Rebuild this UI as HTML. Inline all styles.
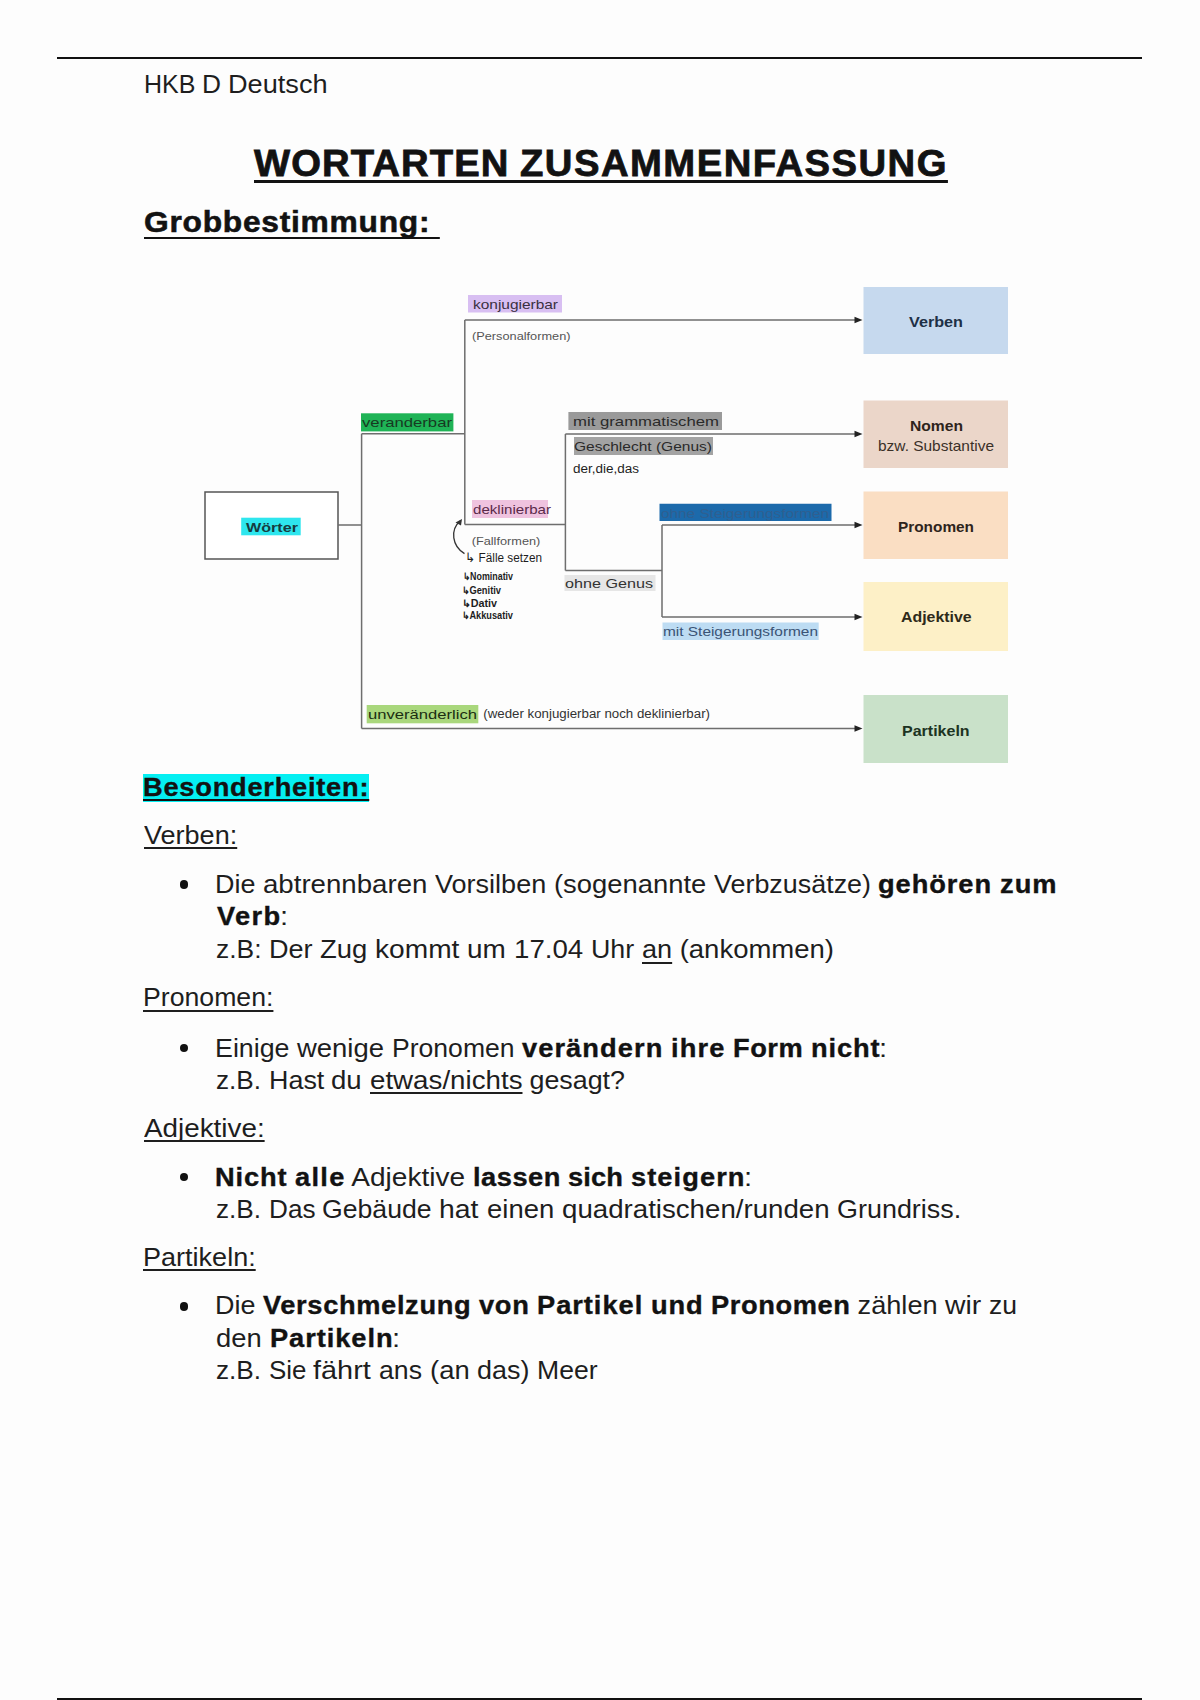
<!DOCTYPE html>
<html><head><meta charset="utf-8"><title>Wortarten Zusammenfassung</title>
<style>
html,body{margin:0;padding:0;background:#fff;}
#page{position:relative;width:1200px;height:1700px;overflow:hidden;background:#fdfdfd;font-family:"Liberation Sans",sans-serif;color:#1e1e1e;}
.t{position:absolute;white-space:pre;line-height:30px;height:30px;}
.r{position:absolute;top:0;white-space:pre;transform-origin:0 0;}
.bd{font-weight:bold;color:#121212;-webkit-text-stroke:0.35px #121212;}
.u{text-decoration:underline;text-decoration-thickness:2px;text-underline-offset:3px;text-decoration-skip-ink:none;}
.hr{position:absolute;left:57px;width:1085px;height:2px;background:#111;}
.dot{position:absolute;width:8.4px;height:8.4px;border-radius:50%;background:#111;}
svg text{font-family:"Liberation Sans",sans-serif;}
</style></head><body><div id="page">
<div class="hr" style="top:57px"></div>
<div class="hr" style="top:1698px"></div>
<div style="position:absolute;left:143px;top:774px;width:226px;height:28px;background:#05eff2"></div>

<div class="t" style="left:143.5px;top:69.3px;font-size:25.00px;"><span class="r" style="left:0.00px;transform:scaleX(0.9997);">HKB </span><span class="r" style="left:58.34px;transform:scaleX(1.0531);">D </span><span class="r" style="left:84.67px;transform:scaleX(1.0855);">Deutsch</span></div>
<div class="t" style="left:254.3px;top:147.7px;font-size:37.50px;"><span class="r bd u" style="left:0.00px;transform:scaleX(1.0200);letter-spacing:1.063px;text-underline-offset:4px;text-decoration-thickness:2.5px;-webkit-text-stroke-width:0.8px;">WORTARTEN </span><span class="r bd u" style="left:266.14px;transform:scaleX(1.0200);letter-spacing:1.440px;text-underline-offset:4px;text-decoration-thickness:2.5px;-webkit-text-stroke-width:0.8px;">ZUSAMMENFASSUNG</span></div>
<div class="t" style="left:144.0px;top:207.4px;font-size:29.13px;"><span class="r bd u" style="left:0.00px;transform:scaleX(1.0900);letter-spacing:0.680px;text-underline-offset:5px;-webkit-text-stroke-width:0.55px;">Grobbestimmung: </span></div>
<div class="t" style="left:143.0px;top:772.3px;font-size:25.00px;"><span class="r bd u" style="left:0.00px;transform:scaleX(1.0900);letter-spacing:0.687px;">Besonderheiten:</span></div>
<div class="t" style="left:143.5px;top:820.3px;font-size:25.00px;"><span class="r u" style="left:0.00px;transform:scaleX(1.0816);">Verben:</span></div>
<div class="t" style="left:215.3px;top:869.0px;font-size:25.00px;"><span class="r" style="left:0.00px;transform:scaleX(1.0777);">Die </span><span class="r" style="left:47.92px;transform:scaleX(1.1055);">abtrennbaren </span><span class="r" style="left:220.03px;transform:scaleX(1.0813);">Vorsilben </span><span class="r" style="left:338.75px;transform:scaleX(1.0958);">(sogenannte </span><span class="r" style="left:498.69px;transform:scaleX(1.0761);">Verbzusätze) </span><span class="r bd" style="left:663.17px;transform:scaleX(1.0900);letter-spacing:0.845px;">gehören </span><span class="r bd" style="left:784.70px;transform:scaleX(1.0900);letter-spacing:0.925px;">zum</span></div>
<div class="t" style="left:217.3px;top:901.3px;font-size:25.00px;"><span class="r bd" style="left:0.00px;transform:scaleX(1.0900);letter-spacing:1.213px;">Verb</span><span class="r" style="left:63.05px;transform:scaleX(1.1730);">:</span></div>
<div class="t" style="left:216.3px;top:933.6px;font-size:25.00px;"><span class="r" style="left:0.00px;transform:scaleX(1.0562);">z.B: </span><span class="r" style="left:52.83px;transform:scaleX(1.0827);">Der </span><span class="r" style="left:103.97px;transform:scaleX(1.0984);">Zug </span><span class="r" style="left:158.92px;transform:scaleX(1.1256);">kommt </span><span class="r" style="left:251.17px;transform:scaleX(1.1177);">um </span><span class="r" style="left:297.77px;transform:scaleX(1.1068);">17.04 </span><span class="r" style="left:374.70px;transform:scaleX(1.0728);">Uhr </span><span class="r u" style="left:425.38px;transform:scaleX(1.0843);text-underline-offset:4px;">an</span><span class="r" style="left:455.53px;transform:scaleX(1.1001);"> (ankommen)</span></div>
<div class="t" style="left:143.0px;top:981.7px;font-size:25.00px;"><span class="r u" style="left:0.00px;transform:scaleX(1.0664);text-underline-offset:4px;">Pronomen:</span></div>
<div class="t" style="left:215.3px;top:1032.7px;font-size:25.00px;"><span class="r" style="left:0.00px;transform:scaleX(1.0723);">Einige </span><span class="r" style="left:81.98px;transform:scaleX(1.0983);">wenige </span><span class="r" style="left:176.62px;transform:scaleX(1.0627);">Pronomen </span><span class="r bd" style="left:306.59px;transform:scaleX(1.0900);letter-spacing:0.977px;">verändern </span><span class="r bd" style="left:455.53px;transform:scaleX(1.0900);letter-spacing:1.082px;">ihre </span><span class="r bd" style="left:517.80px;transform:scaleX(1.0900);letter-spacing:0.462px;">Form </span><span class="r bd" style="left:595.52px;transform:scaleX(1.0900);letter-spacing:0.814px;">nicht</span><span class="r" style="left:664.16px;transform:scaleX(1.1730);">:</span></div>
<div class="t" style="left:216.3px;top:1064.8px;font-size:25.00px;"><span class="r" style="left:0.00px;transform:scaleX(1.0469);">z.B. </span><span class="r" style="left:52.36px;transform:scaleX(1.0760);">Hast </span><span class="r" style="left:115.16px;transform:scaleX(1.1038);">du </span><span class="r u" style="left:153.53px;transform:scaleX(1.1085);">etwas/nichts</span><span class="r" style="left:306.02px;transform:scaleX(1.0741);"> gesagt?</span></div>
<div class="t" style="left:143.5px;top:1113.1px;font-size:25.00px;"><span class="r u" style="left:0.00px;transform:scaleX(1.1130);">Adjektive:</span></div>
<div class="t" style="left:215.3px;top:1161.6px;font-size:25.00px;"><span class="r bd" style="left:0.00px;transform:scaleX(1.0900);letter-spacing:0.803px;">Nicht </span><span class="r bd" style="left:80.08px;transform:scaleX(1.0900);letter-spacing:1.179px;">alle</span><span class="r" style="left:129.39px;transform:scaleX(1.1220);"> Adjektive </span><span class="r bd" style="left:257.25px;transform:scaleX(1.0900);letter-spacing:0.465px;">lassen </span><span class="r bd" style="left:352.70px;transform:scaleX(1.0900);letter-spacing:0.128px;">sich </span><span class="r bd" style="left:415.38px;transform:scaleX(1.0900);letter-spacing:0.984px;">steigern</span><span class="r" style="left:528.91px;transform:scaleX(1.1730);">:</span></div>
<div class="t" style="left:216.3px;top:1193.6px;font-size:25.00px;"><span class="r" style="left:0.00px;transform:scaleX(1.0469);">z.B. </span><span class="r" style="left:52.36px;transform:scaleX(1.0456);">Das </span><span class="r" style="left:106.11px;transform:scaleX(1.0659);">Gebäude </span><span class="r" style="left:223.17px;transform:scaleX(1.1349);">hat </span><span class="r" style="left:270.50px;transform:scaleX(1.0986);">einen </span><span class="r" style="left:345.34px;transform:scaleX(1.1064);">quadratischen/runden </span><span class="r" style="left:620.62px;transform:scaleX(1.0776);">Grundriss.</span></div>
<div class="t" style="left:143.0px;top:1242.0px;font-size:25.00px;"><span class="r u" style="left:0.00px;transform:scaleX(1.0814);">Partikeln:</span></div>
<div class="t" style="left:215.3px;top:1290.4px;font-size:25.00px;"><span class="r" style="left:0.00px;transform:scaleX(1.0777);">Die </span><span class="r bd" style="left:47.92px;transform:scaleX(1.0900);letter-spacing:0.589px;">Verschmelzung </span><span class="r bd" style="left:263.77px;transform:scaleX(1.0900);letter-spacing:0.611px;">von </span><span class="r bd" style="left:321.80px;transform:scaleX(1.0900);letter-spacing:0.883px;">Partikel </span><span class="r bd" style="left:435.53px;transform:scaleX(1.0900);letter-spacing:0.817px;">und </span><span class="r bd" style="left:495.72px;transform:scaleX(1.0900);letter-spacing:0.549px;">Pronomen</span><span class="r" style="left:634.66px;transform:scaleX(1.0867);"> zählen </span><span class="r" style="left:729.81px;transform:scaleX(1.1350);">wir </span><span class="r" style="left:773.95px;transform:scaleX(1.0615);">zu</span></div>
<div class="t" style="left:216.3px;top:1323.1px;font-size:25.00px;"><span class="r" style="left:0.00px;transform:scaleX(1.0944);">den </span><span class="r bd" style="left:53.27px;transform:scaleX(1.0900);letter-spacing:0.851px;">Partikeln</span><span class="r" style="left:175.80px;transform:scaleX(1.1730);">:</span></div>
<div class="t" style="left:216.3px;top:1355.1px;font-size:25.00px;"><span class="r" style="left:0.00px;transform:scaleX(1.0469);">z.B. </span><span class="r" style="left:52.36px;transform:scaleX(1.0363);">Sie </span><span class="r" style="left:97.02px;transform:scaleX(1.1546);">fährt </span><span class="r" style="left:162.81px;transform:scaleX(1.0674);">ans </span><span class="r" style="left:213.27px;transform:scaleX(1.0972);">(an </span><span class="r" style="left:260.55px;transform:scaleX(1.0776);">das) </span><span class="r" style="left:320.45px;transform:scaleX(1.0634);">Meer</span></div>
<div class="dot" style="left:179.7px;top:880.2px"></div>
<div class="dot" style="left:179.7px;top:1043.7px"></div>
<div class="dot" style="left:179.7px;top:1172.8px"></div>
<div class="dot" style="left:179.7px;top:1302.3px"></div>
<svg style="position:absolute;left:0;top:0" width="1200" height="1700" viewBox="0 0 1200 1700">
<g stroke="#6e6e6e" stroke-width="1.5" fill="none">
<rect x="205" y="492" width="133" height="67" stroke="#555" fill="#fff"/>
<path d="M338 525H361.6M361.6 433.8V728.5M361.6 433.8H464.8M464.8 320V524.5M464.8 320H856M464.8 524.5H565.4M565.4 434V570.5M565.4 434H856M565.4 570.5H662M662 525V617M662 525H856M662 617H856M361.6 728.5H856"/>
</g>
<g fill="#222">
<path d="M862.5 320L854.5 316.7V323.3Z"/>
<path d="M862.5 434L854.5 430.7V437.3Z"/>
<path d="M862.5 525L854.5 521.7V528.3Z"/>
<path d="M862.5 617L854.5 613.7V620.3Z"/>
<path d="M862.5 728.5L854.5 725.2V731.8Z"/>
</g>
<rect x="863.5" y="287" width="144.5" height="67" fill="#c6d9ee"/>
<rect x="863.5" y="400.5" width="144.5" height="67.5" fill="#ebd6c9"/>
<rect x="863.5" y="491.5" width="144.5" height="67.5" fill="#fadec3"/>
<rect x="863.5" y="582" width="144.5" height="69" fill="#fdf0c7"/>
<rect x="863.5" y="695" width="144.5" height="68" fill="#c9e1c9"/>
<g font-weight="bold" font-size="14.5">
<text fill="#1e3046" x="909" y="326.5" textLength="54" lengthAdjust="spacingAndGlyphs">Verben</text>
<text fill="#2e241c" x="910" y="431" textLength="53" lengthAdjust="spacingAndGlyphs">Nomen</text>
<text fill="#2e241c" x="898" y="531.5" textLength="76" lengthAdjust="spacingAndGlyphs">Pronomen</text>
<text fill="#2e2a1a" x="901" y="622" textLength="70.6" lengthAdjust="spacingAndGlyphs">Adjektive</text>
<text fill="#1c3322" x="902" y="735.5" textLength="67.6" lengthAdjust="spacingAndGlyphs">Partikeln</text>
</g>
<text x="878" y="450.5" font-size="14.5" fill="#3a3028" textLength="116" lengthAdjust="spacingAndGlyphs">bzw. Substantive</text>
<!-- highlights -->
<rect x="241.2" y="517.7" width="59.5" height="17.6" fill="#2ee6ee"/>
<rect x="361" y="413.3" width="92.4" height="18.1" fill="#1fb356"/>
<rect x="468" y="295" width="94" height="17.5" fill="#d8bff2"/>
<rect x="568.4" y="412" width="153.6" height="18" fill="#9a9a9a"/>
<rect x="574" y="437" width="139" height="18" fill="#a3a3a3"/>
<rect x="472" y="500" width="76" height="18" fill="#efc3df"/>
<rect x="564.5" y="575" width="91" height="16" fill="#e6e6e6"/>
<rect x="659.5" y="503.75" width="172" height="17.25" fill="#1c6aab"/>
<rect x="662.5" y="622.5" width="156.2" height="17.5" fill="#bddcf3"/>
<rect x="366.7" y="705" width="111.6" height="18.3" fill="#a9d77c"/>
<g font-size="13.5">
<text x="246" y="531.5" font-weight="bold" fill="#163c40" textLength="52" lengthAdjust="spacingAndGlyphs">Wörter</text>
<text x="362" y="427" fill="#173a22" textLength="90" lengthAdjust="spacingAndGlyphs">veranderbar</text>
<text x="473" y="308.5" fill="#3a3040" textLength="85" lengthAdjust="spacingAndGlyphs">konjugierbar</text>
<text x="573" y="426" fill="#2a2a2a" textLength="146" lengthAdjust="spacingAndGlyphs">mit grammatischem</text>
<text x="574" y="451" fill="#2a2a2a" textLength="138" lengthAdjust="spacingAndGlyphs">Geschlecht (Genus)</text>
<text x="473" y="514" fill="#5a2a4a" textLength="78" lengthAdjust="spacingAndGlyphs">deklinierbar</text>
<text x="565" y="588" fill="#333" textLength="88" lengthAdjust="spacingAndGlyphs">ohne Genus</text>
<text x="661" y="517.5" fill="#2f5f90" textLength="168" lengthAdjust="spacingAndGlyphs">ohne Steigerungsformen</text>
<text x="663" y="636" fill="#3a5375" textLength="155" lengthAdjust="spacingAndGlyphs">mit Steigerungsformen</text>
<text x="368" y="719" fill="#1b2e12" textLength="109" lengthAdjust="spacingAndGlyphs">unveränderlich</text>
</g>
<g font-size="11" fill="#555">
<text x="472" y="339.5" textLength="98.5" lengthAdjust="spacingAndGlyphs">(Personalformen)</text>
<text x="471.7" y="544.5" textLength="68.6" lengthAdjust="spacingAndGlyphs">(Fallformen)</text>
<text x="483.3" y="718" fill="#333" font-size="12" textLength="226.7" lengthAdjust="spacingAndGlyphs">(weder konjugierbar noch deklinierbar)</text>
</g>
<g fill="#1e1e1e">
<text x="573" y="473" font-size="12.5" textLength="66" lengthAdjust="spacingAndGlyphs">der,die,das</text>
<text x="465" y="562" font-size="12.5" textLength="77" lengthAdjust="spacingAndGlyphs">↳ Fälle setzen</text>
<text x="463" y="580" font-size="10" font-weight="bold" textLength="50" lengthAdjust="spacingAndGlyphs">↳Nominativ</text>
<text x="462" y="594" font-size="10" font-weight="bold" textLength="39" lengthAdjust="spacingAndGlyphs">↳Genitiv</text>
<text x="462" y="607" font-size="10" font-weight="bold" textLength="35" lengthAdjust="spacingAndGlyphs">↳Dativ</text>
<text x="462" y="619" font-size="10" font-weight="bold" textLength="51" lengthAdjust="spacingAndGlyphs">↳Akkusativ</text>
</g>
<path d="M464.5 553.6C452 546 450 530 460 521" stroke="#333" stroke-width="1.3" fill="none"/>
<path d="M462 519L455.5 522.5L461 525.5Z" fill="#333"/>
</svg>

</div></body></html>
